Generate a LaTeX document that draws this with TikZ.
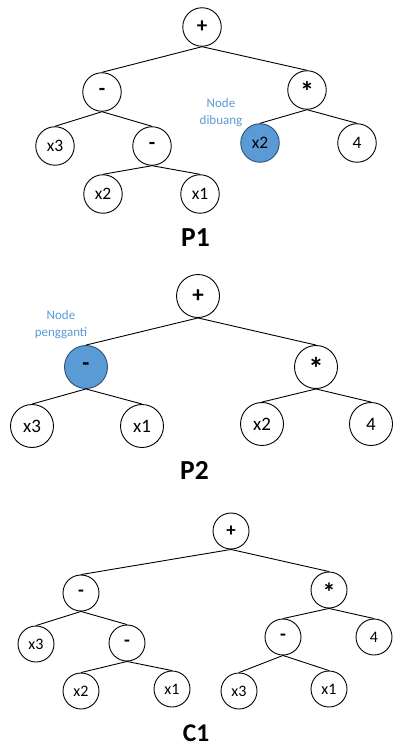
\documentclass[tikz,border=0pt]{standalone}
\usepackage{fontspec}
\setmainfont{Carlito}
\definecolor{hlblue}{HTML}{5B9BD5}
\definecolor{hledge}{HTML}{2E4F73}
% asterisk lowered onto the centre of its circle
\newcommand{\midstar}{\raisebox{-0.3em}{*}}
\begin{document}
\begin{tikzpicture}[x=1pt,y=-1pt,
  tn/.style={circle,draw=black,line width=0.9pt,fill=white,inner sep=0pt,minimum size=#1},
  tn/.default=38.5,
  op/.style={font=\fontsize{21}{22}\selectfont\bfseries},
  star/.style={font=\fontsize{28}{28}\selectfont\bfseries,text height=0.66em,text depth=-0.33em},
  hl/.style={fill=hlblue,draw=hledge},
  edge/.style={line width=0.9pt},
  note/.style={text=hlblue,align=center,font=\fontsize{13}{17}\selectfont},
  treetitle/.style={anchor=base,font=\fontsize{27.5}{30}\selectfont\bfseries}]
\useasboundingbox (0,0) rectangle (392,743);

% ---------- P1 ----------
\begin{scope}[every node/.append style={font=\fontsize{17.5}{20}\selectfont}]
\node[tn,op] (a1) at (202,27) {+};
\node[tn,op] (a2) at (102,92) {-};
\node[tn,star] (a3) at (307,90) {\midstar};
\node[tn] (a4) at (55,146) {x3};
\node[tn,op] (a5) at (152,146) {-};
\node[tn,hl] (a6) at (260,143) {x2};
\node[tn] (a7) at (357,143) {4};
\node[tn] (a8) at (103,194) {x2};
\node[tn] (a9) at (200,194) {x1};
\end{scope}
\foreach \p/\c in {a1/a2,a1/a3,a2/a4,a2/a5,a3/a6,a3/a7,a5/a8,a5/a9}
  \draw[edge] (\p.south) -- (\c.north);
\node[note] (n1) at (221,113) {Node\\dibuang};
\node[treetitle] (t1) at (195.5,246) {P1};

% ---------- P2 ----------
\begin{scope}[every node/.append style={font=\fontsize{19}{22}\selectfont},
              op/.append style={font=\fontsize{23}{24}\selectfont\bfseries},
              star/.append style={font=\fontsize{31}{31}\selectfont\bfseries}]
\node[tn=43,op] (b1) at (198,296) {+};
\node[tn=43,op,hl] (b2) at (86,367) {-};
\node[tn=43,star] (b3) at (316,367) {\midstar};
\node[tn=43] (b4) at (32,426) {x3};
\node[tn=43] (b5) at (142,426) {x1};
\node[tn=43] (b6) at (262,424) {x2};
\node[tn=43] (b7) at (371,424) {4};
\end{scope}
\foreach \p/\c in {b1/b2,b1/b3,b2/b4,b2/b5,b3/b6,b3/b7}
  \draw[edge] (\p.south) -- (\c.north);
\node[note] (n2) at (61,324.5) {Node\\pengganti};
\node[treetitle] (t2) at (194.5,479) {P2};

% ---------- C1 ----------
\begin{scope}[every node/.append style={font=\fontsize{16}{18}\selectfont},
              op/.append style={font=\fontsize{19}{20}\selectfont\bfseries},
              star/.append style={font=\fontsize{26}{26}\selectfont\bfseries}]
\node[tn=36,op] (c1) at (231,531) {+};
\node[tn=36,op] (c2) at (81,593) {-};
\node[tn=36,star] (c3) at (329,590) {\midstar};
\node[tn=36] (c4) at (36,644) {x3};
\node[tn=36,op] (c5) at (127,643) {-};
\node[tn=36,op] (c6) at (283,637) {-};
\node[tn=36] (c7) at (374,637) {4};
\node[tn=36] (c8) at (81,691) {x2};
\node[tn=36] (c9) at (172,689) {x1};
\node[tn=36] (c10) at (239,691) {x3};
\node[tn=36] (c11) at (329,689) {x1};
\end{scope}
\foreach \p/\c in {c1/c2,c1/c3,c2/c4,c2/c5,c3/c6,c3/c7,c5/c8,c5/c9,c6/c10,c6/c11}
  \draw[edge] (\p.south) -- (\c.north);
\node[treetitle,font=\fontsize{25.5}{28}\selectfont\bfseries] (t3) at (196,741) {C1};
\end{tikzpicture}
\end{document}
